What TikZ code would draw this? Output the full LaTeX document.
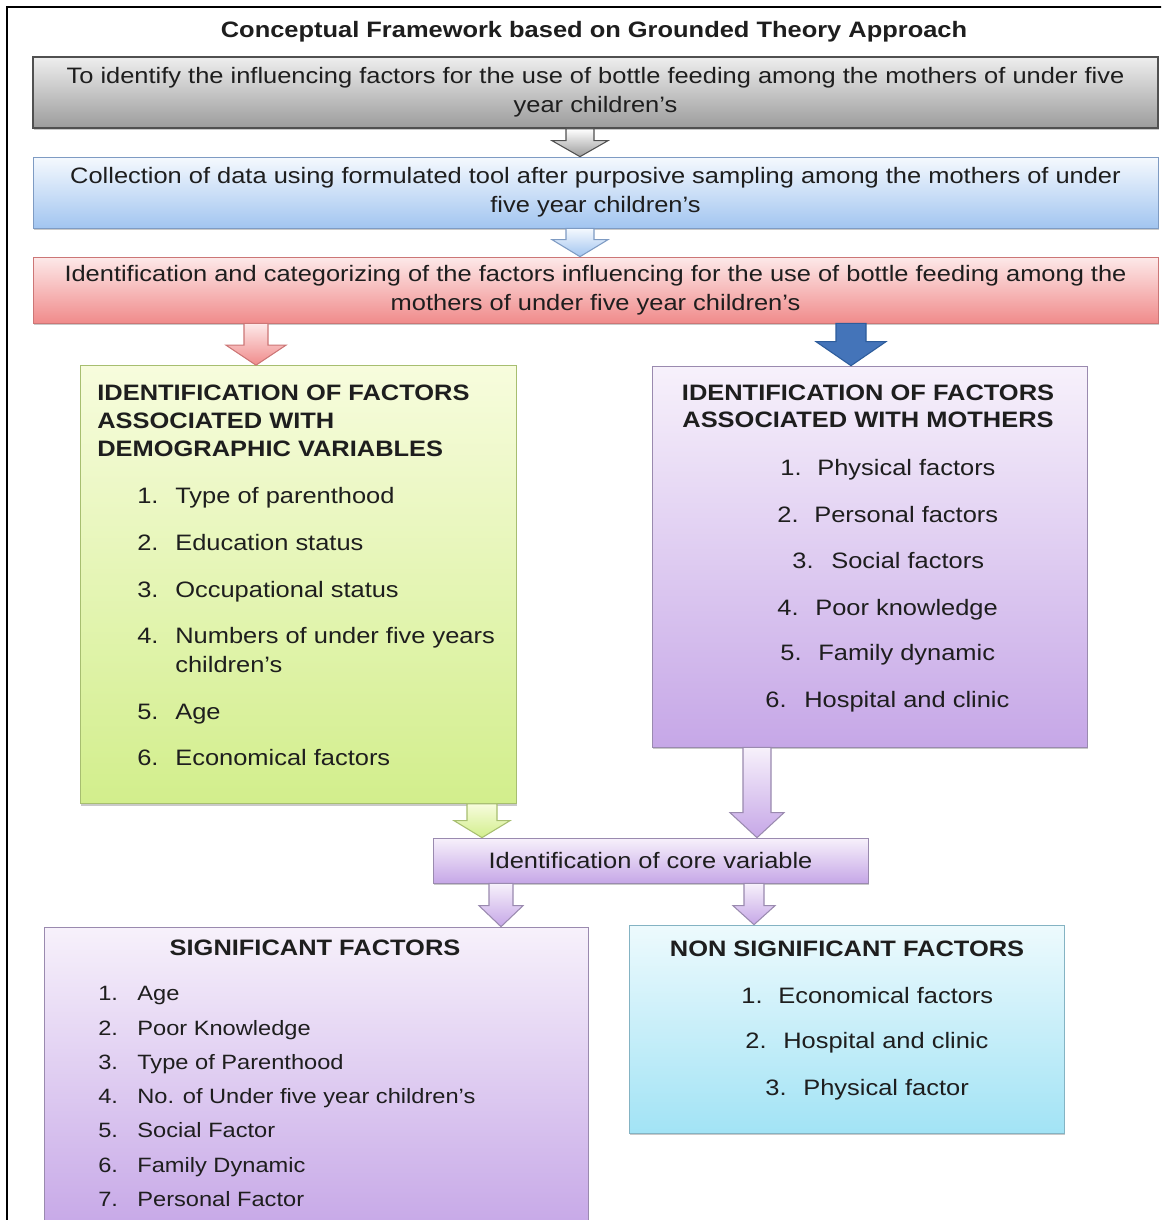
\documentclass[tikz,border=0pt]{standalone}
\usepackage{fontspec}
\setmainfont[FakeStretch=1.14]{Liberation Sans}
\usetikzlibrary{calc, positioning, shadows}

\definecolor{txt}{HTML}{1E1E1E}
\definecolor{greyT}{HTML}{EEEEEE}
\definecolor{greyB}{HTML}{9C9C9C}
\definecolor{greyD}{HTML}{505050}
\definecolor{blueT}{HTML}{F5F9FE}
\definecolor{blueB}{HTML}{A2C5F0}
\definecolor{blueD}{HTML}{7E9BC3}
\definecolor{redT}{HTML}{FDE9E9}
\definecolor{redB}{HTML}{F08B8B}
\definecolor{redD}{HTML}{CC7676}
\definecolor{greenT}{HTML}{F7FCDD}
\definecolor{greenB}{HTML}{D2EE8C}
\definecolor{greenD}{HTML}{A7BE70}
\definecolor{lilacT}{HTML}{F7F1FB}
\definecolor{lilacB}{HTML}{C6A7E7}
\definecolor{lilacD}{HTML}{9A8AAF}
\definecolor{cyanT}{HTML}{EDFAFD}
\definecolor{cyanB}{HTML}{A2E3F5}
\definecolor{cyanD}{HTML}{84B3C3}
\definecolor{navy}{HTML}{4474B9}
\definecolor{navyD}{HTML}{2D5C9B}

\tikzset{
  box/.style={draw, rectangle, inner sep=0pt, align=center, text=txt,
    drop shadow={shadow xshift=0.4pt, shadow yshift=-1.2pt, opacity=0.35, fill=black!60}},
  lbl/.style={anchor=base west, inner sep=0pt, text=txt},
  hd/.style={lbl, font=\fontsize{12.7}{16.5}\selectfont\bfseries},
  small/.style={lbl, font=\fontsize{11.8}{15}\selectfont},
  garrow/.style={draw=greyD, top color=white, bottom color=greyB, line width=0.6pt},
  barrow/.style={draw=blueD, top color=blueT, bottom color=blueB, line width=0.6pt},
  rarrow/.style={draw=redD, top color=redT, bottom color=redB, line width=0.6pt},
  narrow/.style={draw=navyD, fill=navy, line width=0.6pt},
  gnarrow/.style={draw=greenD, top color=greenT, bottom color=greenB, line width=0.6pt},
  larrow/.style={draw=lilacD, top color=lilacT, bottom color=lilacB, line width=0.6pt},
}

% block arrow: style, from node, to node, x, shaft half, head half, head length
\newcommand{\flowarrow}[7]{%
  \path[#1] let \p1=(#2.south -| #4,0), \p2=(#3.north -| #4,0) in
    ($(\p1)+(-#5,0)$) -- ($(\p2)+(-#5,-#7)$) -- ($(\p2)+(-#6,-#7)$) -- (\p2)
    -- ($(\p2)+(#6,-#7)$) -- ($(\p2)+(#5,-#7)$) -- ($(\p1)+(#5,0)$) -- cycle;}

\begin{document}
\begin{tikzpicture}[x=0.02cm, y=-0.02cm, every node/.style={font=\fontsize{12.7}{16.5}\selectfont}]

  \useasboundingbox (0,0) rectangle (1161,1220);
  \clip (0,0) rectangle (1161,1220);
  \fill[white] (0,0) rectangle (1161,1220);

  % frame
  \draw[line width=0.9pt] (7,1225) -- (7,7) -- (1165,7);

  % title
  \node[hd, anchor=base] (title) at (594,38) {Conceptual Framework based on Grounded Theory Approach};

  % top row
  \node[box, draw=greyD, line width=1pt, top color=greyT, bottom color=greyB,
    minimum width=22.5cm, minimum height=1.42cm] (aim) at (595.5,92.5)
    {To identify the influencing factors for the use of bottle feeding among the mothers of under five\\year children's};
  \node[box, draw=blueD, top color=blueT, bottom color=blueB,
    minimum width=22.5cm, minimum height=1.42cm] (data) at (595.5,192.5)
    {Collection of data using formulated tool after purposive sampling among the mothers of under\\five year children's};
  \node[box, draw=redD, top color=redT, bottom color=redB,
    minimum width=22.5cm, minimum height=1.32cm] (cat) at (595.5,290)
    {Identification and categorizing of the factors influencing for the use of bottle feeding among the\\mothers of under five year children's};

  % middle boxes
  \node[box, draw=greenD, top color=greenT, bottom color=greenB,
    minimum width=8.72cm, minimum height=8.76cm] (demo) at (298,584.5) {};
  \node[box, draw=lilacD, top color=lilacT, bottom color=lilacB,
    minimum width=8.7cm, minimum height=7.62cm] (moth) at (869.5,556.5) {};
  \node[box, draw=lilacD, top color=lilacT, bottom color=lilacB,
    minimum width=8.7cm, minimum height=0.9cm] (core) at (650.5,860.5) {Identification of core variable};

  % bottom boxes
  \node[box, draw=lilacD, top color=lilacT, bottom color=lilacB,
    minimum width=10.88cm, minimum height=6.1cm] (sig) at (316,1079.5) {};
  \node[box, draw=cyanD, top color=cyanT, bottom color=cyanB,
    minimum width=8.7cm, minimum height=4.16cm] (nonsig) at (846.5,1029) {};

  % arrows
  \flowarrow{garrow}{aim}{data}{580}{14}{28}{16}
  \flowarrow{barrow}{data}{cat}{580}{14}{28}{17}
  \flowarrow{rarrow}{cat}{demo}{256}{12}{30}{20}
  \flowarrow{narrow}{cat}{moth}{851}{15}{35}{24}
  \flowarrow{gnarrow}{demo}{core}{482}{15}{28}{17}
  \flowarrow{larrow}{moth}{core}{757}{14}{27}{25}
  \flowarrow{larrow}{core}{sig}{501}{12}{22}{21}
  \flowarrow{larrow}{core}{nonsig}{754}{10}{21}{19}

  % demographic variables
  \node[hd] (demoh1) at (97,400) {IDENTIFICATION OF FACTORS};
  \node[hd] (demoh2) at (97,428) {ASSOCIATED WITH};
  \node[hd] (demoh3) at (97,456) {DEMOGRAPHIC VARIABLES};
  \foreach \n/\t/\y in {1/Type of parenthood/503, 2/Education status/550,
      3/Occupational status/597, 4/Numbers of under five years/643,
      5/Age/719, 6/Economical factors/765} {
    \node[lbl] (dn\n) at (137,\y) {\n.};
    \node[lbl] (dt\n) at (175,\y) {\t};
  }
  \node[lbl] (dt4b) at (175,672) {children's};

  % mothers
  \node[hd, anchor=base] (mothh1) at (868,400) {IDENTIFICATION OF FACTORS};
  \node[hd, anchor=base] (mothh2) at (868,427) {ASSOCIATED WITH MOTHERS};
  \foreach \n/\xn/\xt/\y/\t in {1/780/817/475/Physical factors, 2/777/814/522/Personal factors,
      3/792/831/568/Social factors, 4/777/815/615/Poor knowledge,
      5/780/818/660/Family dynamic, 6/765/804/707/Hospital and clinic} {
    \node[lbl] (mn\n) at (\xn,\y) {\n.};
    \node[lbl] (mt\n) at (\xt,\y) {\t};
  }

  % significant
  \node[hd, anchor=base] (sigh) at (315,955) {SIGNIFICANT FACTORS};
  \foreach \n/\t/\y in {1/Age/1000, 2/Poor Knowledge/1035, 3/Type of Parenthood/1069,
      4/No. of Under five year children's/1103, 5/Social Factor/1137,
      6/Family Dynamic/1172, 7/Personal Factor/1206} {
    \node[small] (sn\n) at (98,\y) {\n.};
    \node[small] (st\n) at (137,\y) {\t};
  }

  % non significant
  \node[hd, anchor=base] (nonsigh) at (847,956) {NON SIGNIFICANT FACTORS};
  \foreach \n/\xn/\xt/\y/\t in {1/741/778/1003/Economical factors,
      2/745/783/1048/Hospital and clinic, 3/765/803/1095/Physical factor} {
    \node[lbl] (nn\n) at (\xn,\y) {\n.};
    \node[lbl] (nt\n) at (\xt,\y) {\t};
  }

\end{tikzpicture}
\end{document}
